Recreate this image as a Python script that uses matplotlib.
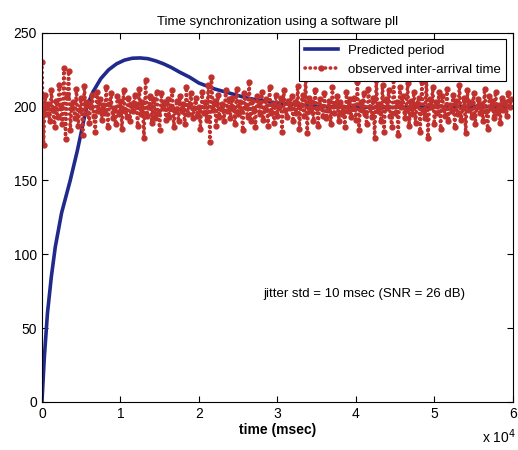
import matplotlib.pyplot as plt
import numpy as np

plt.rcParams['font.family'] = ['Liberation Sans', 'DejaVu Sans']

# predicted period (blue)
pred_t = [0, 300, 700, 1200, 1700, 2500, 3600, 4500, 5700, 6500, 7500, 8500,
          9500, 10500, 11500, 12500, 13500, 14500, 15500, 16500, 17500, 18800,
          20000, 22000, 24000, 26000, 28000, 30000, 33000, 36000, 40000,
          45000, 50000, 55000, 60000]
pred_v = [0, 30, 60, 85, 105, 128, 150, 170, 200, 210, 219, 225,
          229, 231.5, 232.8, 233, 232.5, 231, 229, 226.5, 223.5, 220,
          216, 212, 209, 206, 204, 202.5, 201, 200, 199.5,
          199.5, 200, 200, 200]

# observed inter-arrival times (red), one every ~200 msec
obs_v = [
    230, 174, 208, 195, 202, 190, 211, 198, 186, 204, 193, 215, 200, 188, 226, 178, 207, 224, 184, 199,
    203, 192, 212, 187, 198, 206, 181, 214, 196, 203, 189, 200, 208, 194, 183, 210, 197, 205, 191, 201,
    196, 213, 186, 202, 209, 192, 199, 188, 207, 195, 204, 185, 211, 198, 193, 206, 190, 202, 197, 208,
    201, 187, 212, 195, 203, 179, 218, 194, 200, 207, 189, 205, 192, 210, 196, 184, 209, 199, 203, 191,
    205, 193, 200, 211, 186, 198, 204, 190, 207, 197, 202, 188, 213, 195, 201, 209, 192, 199, 206, 194,
    200, 185, 210, 196, 203, 191, 215, 176, 220, 198, 204, 187, 208, 193, 199, 202, 190, 211, 197, 205,
    192, 206, 199, 188, 212, 195, 203, 197, 184, 209, 200, 193, 217, 190, 204, 198, 186, 207, 201, 195,
    210, 191, 199, 205, 187, 213, 196, 202, 189, 208, 194, 200, 206, 183, 211, 198, 193, 204, 199, 207,
    190, 203, 196, 214, 185, 201, 208, 194, 219, 182, 206, 197, 203, 190, 211, 199, 187, 205, 200, 194,
    209, 192, 198, 204, 188, 213, 196, 201, 207, 190, 203, 195, 200, 186, 210, 197, 205, 193, 199, 206,
    191, 217, 184, 203, 198, 209, 195, 188, 212, 200, 193, 206, 179, 218, 197, 202, 190, 215, 183, 205,
    199, 211, 194, 186, 220, 196, 203, 181, 213, 200, 207, 192, 198, 216, 187, 204, 195, 210, 189, 202,
    206, 183, 217, 198, 192, 219, 179, 205, 200, 213, 188, 203, 196, 210, 185, 207, 199, 194, 212, 190,
    201, 197, 208, 186, 204, 195, 215, 191, 199, 206, 182, 211, 198, 203, 193, 209, 188, 200, 205, 196,
    202, 190, 212, 197, 185, 207, 199, 204, 192, 210, 196, 201, 189, 206, 198, 203, 194, 209, 200, 205,
]
obs_step = 200
obs_t = np.arange(len(obs_v)) * obs_step

xticks = [0, 10000, 20000, 30000, 40000, 50000, 60000]
xtick_labels = ['0', '1', '2', '3', '4', '5', '6']
yticks = [0, 50, 100, 150, 200, 250]

fig = plt.figure(figsize=(5.18, 4.5), dpi=100)
ax = fig.add_axes([0.081, 0.107, 0.909, 0.820])

ax.plot(pred_t, pred_v, color='#1f2a8c', linewidth=2.6, label='Predicted period')
ax.plot(obs_t, obs_v, color='#c0302c', linestyle=(0, (0.1, 1.3)), linewidth=2.6,
        dash_capstyle='round', marker='o', markersize=3.5,
        label='observed inter-arrival time')

ax.set_xlim(0, 60000)
ax.set_ylim(0, 250)
ax.set_xticks(xticks)
ax.set_xticklabels(xtick_labels)
ax.set_yticks(yticks)
ax.tick_params(direction='in', top=True, right=True, labelsize=10, length=4)

ax.set_title('Time synchronization using a software pll', fontsize=9.5)
ax.set_xlabel('time (msec)', fontsize=10, fontweight='bold', labelpad=2)
fig.text(0.93, 0.015, r'x 10$^4$', fontsize=10)

ax.text(28200, 71, 'jitter std = 10 msec (SNR = 26 dB)', fontsize=9.5)

leg = ax.legend(loc='upper right', fontsize=9.5, fancybox=False,
                edgecolor='black', framealpha=1, borderaxespad=0.5,
                handlelength=2.5)
leg.get_frame().set_linewidth(0.8)

fig.savefig('out.png')
